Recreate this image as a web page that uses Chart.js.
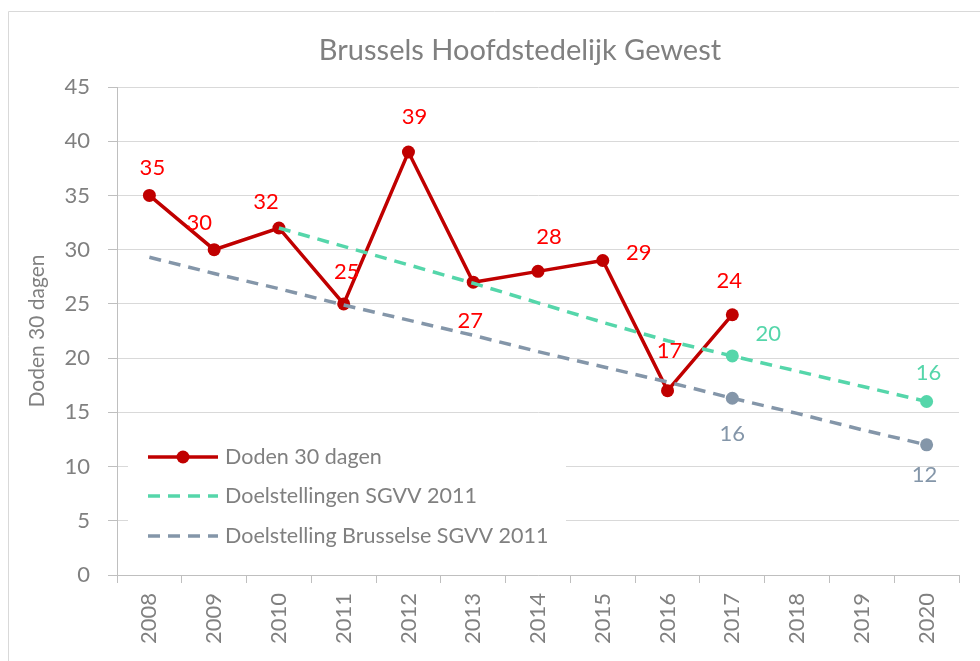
<!DOCTYPE html>
<html>
<head>
<meta charset="utf-8">
<script src="https://cdn.jsdelivr.net/npm/chart.js@4/dist/chart.umd.min.js"></script>
<style>
  body { margin: 0; background: #fff; }
  canvas { display: block; }
</style>
</head>
<body>
<canvas id="myChart" width="980" height="661"></canvas>
<script>
const years = ['2008', '2009', '2010', '2011', '2012', '2013', '2014', '2015', '2016', '2017', '2018', '2019', '2020'];

const doden = [35, 30, 32, 25, 39, 27, 28, 29, 17, 24, null, null, null];
const doelSgvv = [null, null, 32, 30.3, 28.6, 26.9, 25.1, 23.3, 21.6, 20.2, 18.8, 17.4, 16];
const doelBrussel = [29.3, 27.8, 26.4, 24.9, 23.5, 22.1, 20.6, 19.2, 17.8, 16.3, 14.9, 13.4, 12];

const yTicks = [0, 5, 10, 15, 20, 25, 30, 35, 40, 45];

const chartTitle = 'Brussels Hoofdstedelijk Gewest';
const seriesNames = ['Doden 30 dagen', 'Doelstellingen SGVV 2011', 'Doelstelling Brusselse SGVV 2011'];

// where the value labels sit, relative to the point (pixels)
const labelOffsets = [
  { 0: [3, -28], 1: [-15, -27], 2: [-13, -26], 3: [3, -32], 4: [6, -35], 5: [-3, 39], 6: [11, -34], 7: [36, -8], 8: [2, -40], 9: [-3, -34] },
  { 9: [36, -22], 12: [2, -29] },
  { 9: [0, 36], 12: [-2, 30] },
];
const labelColors = ['#FF0000', '#55D6AA', '#8496A9'];

const FONT = 'Lato, "Open Sans", sans-serif';
const GREY = '#808080';

const frame = {
  id: 'frame',
  beforeDraw(chart) {
    const ctx = chart.ctx;
    ctx.save();
    ctx.strokeStyle = '#d9d9d9';
    ctx.lineWidth = 1;
    ctx.beginPath();
    ctx.moveTo(8.5, 700);
    ctx.lineTo(8.5, 11.5);
    ctx.lineTo(1000, 11.5);
    ctx.stroke();
    // title, centred a little right of the canvas middle like the original
    ctx.fillStyle = GREY;
    ctx.font = '29px ' + FONT;
    ctx.textAlign = 'center';
    ctx.textBaseline = 'middle';
    ctx.fillText(chartTitle, 520, 51);
    ctx.restore();
  },
};

const valueLabels = {
  id: 'valueLabels',
  afterDatasetsDraw(chart) {
    const ctx = chart.ctx;
    ctx.save();
    ctx.font = '22px ' + FONT;
    ctx.textAlign = 'center';
    ctx.textBaseline = 'middle';
    chart.data.datasets.forEach((ds, di) => {
      const meta = chart.getDatasetMeta(di);
      Object.keys(labelOffsets[di]).forEach((k) => {
        const i = Number(k);
        const pt = meta.data[i];
        const v = ds.data[i];
        if (!pt || v == null) return;
        const off = labelOffsets[di][k];
        ctx.fillStyle = labelColors[di];
        ctx.fillText(String(Math.round(v)), pt.x + off[0], pt.y + off[1]);
      });
    });
    ctx.restore();
  },
};

const boxLegend = {
  id: 'boxLegend',
  afterDraw(chart) {
    const ctx = chart.ctx;
    ctx.save();
    ctx.fillStyle = '#fff';
    ctx.fillRect(128, 436, 438, 112);
    const rows = [457, 496, 536];
    chart.data.datasets.forEach((ds, di) => {
      const y = rows[di];
      ctx.strokeStyle = ds.borderColor;
      ctx.lineWidth = ds.borderWidth;
      ctx.setLineDash(ds.borderDash || []);
      ctx.beginPath();
      ctx.moveTo(148, y);
      ctx.lineTo(218, y);
      ctx.stroke();
      ctx.setLineDash([]);
      if (di === 0) {
        ctx.fillStyle = ds.borderColor;
        ctx.beginPath();
        ctx.arc(183, y, 6.5, 0, Math.PI * 2);
        ctx.fill();
      }
      ctx.fillStyle = GREY;
      ctx.font = '21.5px ' + FONT;
      ctx.textAlign = 'left';
      ctx.textBaseline = 'middle';
      ctx.fillText(seriesNames[di], 225, y);
    });
    ctx.restore();
  },
};

const markerOnly = (n, idx) => years.map((_, i) => (idx.includes(i) ? n : 0));

new Chart(document.getElementById('myChart'), {
  type: 'line',
  data: {
    labels: years,
    datasets: [
      {
        label: seriesNames[0],
        data: doden,
        borderColor: '#C00000',
        backgroundColor: '#C00000',
        borderWidth: 3.5,
        pointRadius: 6.5,
        pointHoverRadius: 6.5,
        pointBorderWidth: 0,
        tension: 0,
        spanGaps: false,
        order: 2,
      },
      {
        label: seriesNames[1],
        data: doelSgvv,
        borderColor: '#55D6AA',
        backgroundColor: '#55D6AA',
        borderWidth: 3.5,
        borderDash: [12, 8],
        pointRadius: markerOnly(6.5, [9, 12]),
        pointBorderWidth: 0,
        tension: 0,
        order: 1,
      },
      {
        label: seriesNames[2],
        data: doelBrussel,
        borderColor: '#8496A9',
        backgroundColor: '#8496A9',
        borderWidth: 3.5,
        borderDash: [12, 8],
        pointRadius: markerOnly(6.5, [9, 12]),
        pointBorderWidth: 0,
        tension: 0,
        order: 0,
      },
    ],
  },
  options: {
    responsive: false,
    devicePixelRatio: 1,
    animation: false,
    layout: { padding: { top: 87, left: 0, right: 21, bottom: 0 } },
    plugins: {
      legend: { display: false },
      tooltip: { enabled: false },
      title: { display: false },
    },
    scales: {
      x: {
        offset: true,
        grid: {
          offset: true,
          drawOnChartArea: false,
          tickLength: 8,
          tickColor: '#bfbfbf',
        },
        border: { color: '#bfbfbf' },
        ticks: {
          color: GREY,
          font: { family: FONT, size: 22 },
          minRotation: 90,
          maxRotation: 90,
          padding: 10,
          autoSkip: false,
        },
        afterFit(scale) { scale.height = 86; },
      },
      y: {
        min: 0,
        max: 45,
        afterBuildTicks(scale) { scale.ticks = yTicks.map((v) => ({ value: v })); },
        grid: { color: '#d9d9d9', tickLength: 9, tickColor: '#bfbfbf' },
        border: { color: '#bfbfbf' },
        ticks: {
          color: GREY,
          font: { family: FONT, size: 22 },
          padding: 18,
        },
        title: {
          display: true,
          text: 'Doden 30 dagen',
          color: GREY,
          font: { family: FONT, size: 21 },
          padding: { top: 25, bottom: 0 },
        },
        afterFit(scale) { scale.width = 117; },
      },
    },
  },
  plugins: [frame, valueLabels, boxLegend],
});
</script>
</body>
</html>
